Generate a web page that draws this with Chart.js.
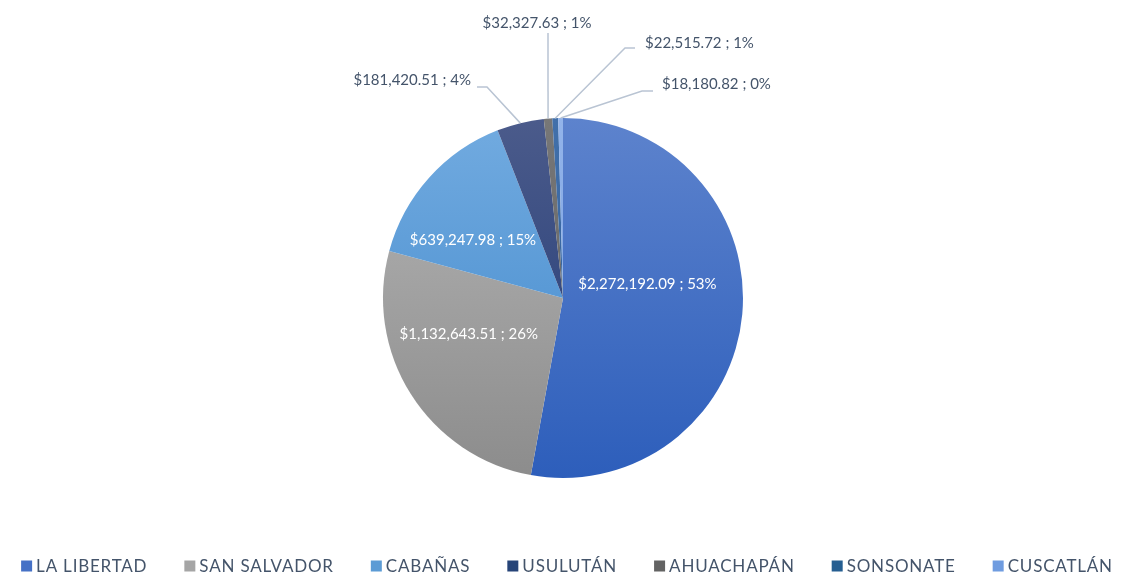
<!DOCTYPE html>
<html>
<head>
<meta charset="utf-8">
<script src="https://cdn.jsdelivr.net/npm/chart.js@4.4.0/dist/chart.umd.min.js"></script>
<style>
  html, body { margin: 0; padding: 0; background: #fff; }
  #wrap { width: 1122px; height: 575px; }
</style>
</head>
<body>
<div id="wrap"><canvas id="pieChart"></canvas></div>
<script>
const departamentos = ['LA LIBERTAD', 'SAN SALVADOR', 'CABAÑAS', 'USULUTÁN', 'AHUACHAPÁN', 'SONSONATE', 'CUSCATLÁN'];
const montos = [2272192.09, 1132643.51, 639247.98, 181420.51, 32327.63, 22515.72, 18180.82];
const porcentajes = [53, 26, 15, 4, 1, 1, 0];

// top / bottom colour of each slice gradient, plus flat legend colour
const topColors = ['#5d83cd', '#b5b5b5', '#72abe0', '#4b5b8b', '#777777', '#4270aa', '#93b4ea'];
const bottomColors = ['#2d5ebb', '#8c8c8c', '#3f87cb', '#1f3874', '#5e5e5e', '#2a5a96', '#6f98dc'];
const legendColors = ['#4571c6', '#a5a5a5', '#5b9bd5', '#264478', '#636363', '#255e91', '#6f9ce0'];

const fmt = v => '$' + v.toLocaleString('en-US', { minimumFractionDigits: 2, maximumFractionDigits: 2 });
const labelText = i => fmt(montos[i]) + ' ; ' + porcentajes[i] + '%';

// label nudges for the big slices, leader-line layout for the thin ones (offsets from pie centre)
const inside = { 0: [-16, -23], 1: [-9, -18], 2: [-15, 10] };
const outside = {
  3: { elbow: [-76, -211], end: [-86, -211], text: [-92, -218], align: 'right' },
  4: { elbow: [-15, -265], end: [-15, -265], text: [-26, -275], align: 'center' },
  5: { elbow: [62, -250], end: [72, -250], text: [82, -255], align: 'left' },
  6: { elbow: [79, -207], end: [90, -207], text: [99, -214], align: 'left' }
};

const pieLabels = {
  id: 'pieLabels',
  afterDatasetsDraw(chart) {
    const c = chart.ctx;
    const arcs = chart.getDatasetMeta(0).data;
    c.save();
    c.font = '15px Lato';
    c.textBaseline = 'middle';
    arcs.forEach((arc, i) => {
      const mid = (arc.startAngle + arc.endAngle) / 2;
      const cx = arc.x, cy = arc.y, R = arc.outerRadius;
      if (outside[i]) {
        const o = outside[i];
        c.strokeStyle = '#b9c4d3';
        c.lineWidth = 1.5;
        c.beginPath();
        c.moveTo(cx + Math.cos(mid) * R, cy + Math.sin(mid) * R);
        c.lineTo(cx + o.elbow[0], cy + o.elbow[1]);
        c.lineTo(cx + o.end[0], cy + o.end[1]);
        c.stroke();
        c.fillStyle = '#44546a';
        c.textAlign = o.align;
        c.fillText(labelText(i), cx + o.text[0], cy + o.text[1]);
      } else {
        const r = R * 0.56;
        const n = inside[i];
        c.fillStyle = '#ffffff';
        c.textAlign = 'center';
        c.fillText(labelText(i), cx + Math.cos(mid) * r + n[0], cy + Math.sin(mid) * r + n[1]);
      }
    });
    c.restore();
  }
};

// single-row legend along the bottom edge
const bottomLegend = {
  id: 'bottomLegend',
  afterDraw(chart) {
    const c = chart.ctx;
    c.save();
    c.font = '17px Lato';
    c.letterSpacing = '0.8px';
    c.textBaseline = 'middle';
    c.textAlign = 'left';
    const box = 11, gapText = 4, gapItem = 37, y = 566;
    const widths = chart.data.labels.map(t => c.measureText(t).width);
    const total = widths.reduce((s, w) => s + box + gapText + w, 0) + gapItem * (widths.length - 1);
    let x = 567 - total / 2;
    chart.data.labels.forEach((t, i) => {
      c.fillStyle = legendColors[i];
      c.fillRect(x, y - box / 2, box, box);
      c.fillStyle = '#44546a';
      c.fillText(t, x + box + gapText, y + 1);
      x += box + gapText + widths[i] + gapItem;
    });
    c.restore();
  }
};

const ctx = document.getElementById('pieChart');

new Chart(ctx, {
  type: 'pie',
  data: {
    labels: departamentos,
    datasets: [{
      data: montos,
      borderWidth: 0,
      backgroundColor: context => {
        const area = context.chart.chartArea;
        if (!area) return legendColors[context.dataIndex];
        const g = context.chart.ctx.createLinearGradient(0, area.top, 0, area.bottom);
        g.addColorStop(0, topColors[context.dataIndex]);
        g.addColorStop(1, bottomColors[context.dataIndex]);
        return g;
      }
    }]
  },
  plugins: [pieLabels, bottomLegend],
  options: {
    responsive: true,
    maintainAspectRatio: false,
    animation: false,
    layout: { padding: { top: 118, bottom: 97, left: 4, right: 0 } },
    plugins: {
      tooltip: { enabled: false },
      legend: { display: false }
    }
  }
});
</script>
</body>
</html>
